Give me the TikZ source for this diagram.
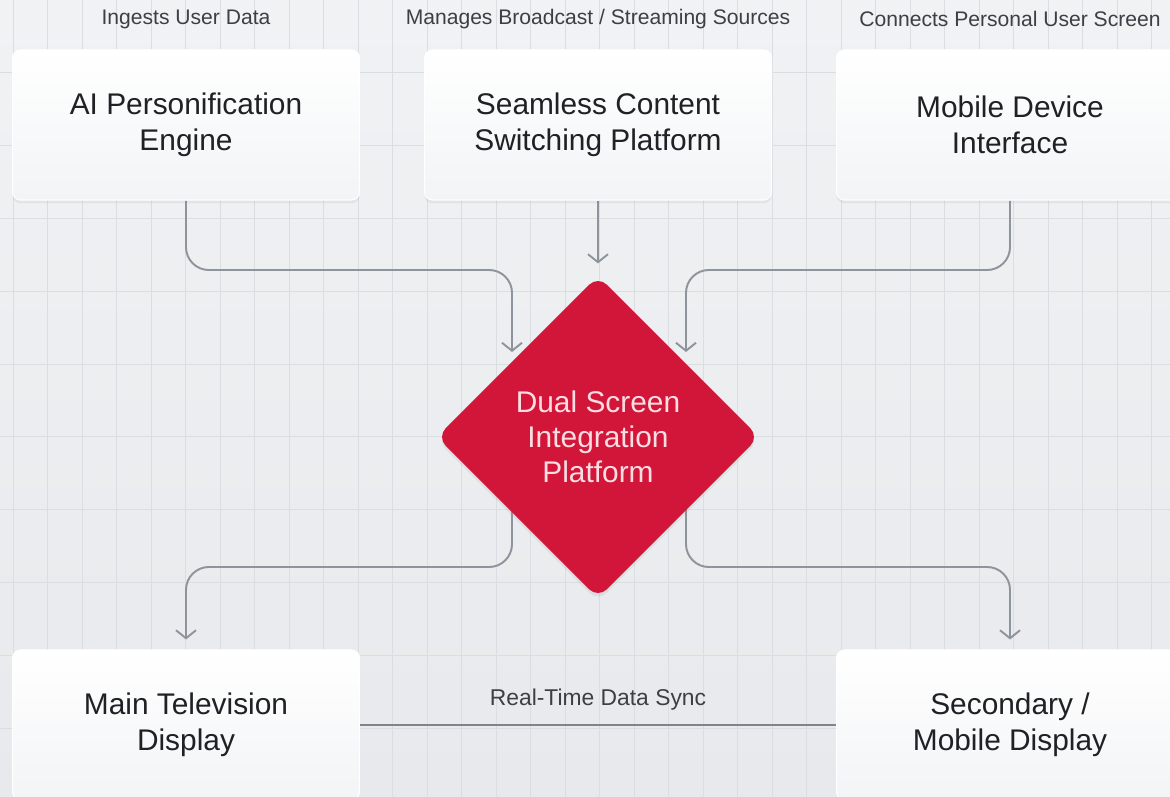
\documentclass[tikz,border=0pt]{standalone}
\usepackage{fontspec}
\setmainfont{Liberation Sans}
\usetikzlibrary{shapes.geometric, arrows.meta, positioning, shadows, calc, backgrounds}

\definecolor{canvastop}{HTML}{F1F2F4}
\definecolor{canvaslow}{HTML}{E7E9EC}
\definecolor{gridgray}{HTML}{DADDE1}
\definecolor{cardlow}{HTML}{F3F4F6}
\definecolor{inktext}{HTML}{1F2124}
\definecolor{captext}{HTML}{3C3F44}
\definecolor{hubred}{HTML}{D2163A}
\definecolor{hubtext}{HTML}{FBDDE2}
\definecolor{flowgray}{HTML}{8E949C}
\definecolor{syncgray}{HTML}{7E848D}

\begin{document}
\begin{tikzpicture}[
  x=0.02cm, y=-0.02cm,
  card/.style={rectangle, rounded corners=4.5pt, draw=white, line width=0.6pt,
               top color=white, bottom color=cardlow, text=inktext,
               minimum width=6.94cm, minimum height=3cm, align=center,
               font=\fontsize{17}{20.5}\selectfont,
               drop shadow={opacity=0.10, shadow xshift=0pt, shadow yshift=-2pt}},
  caption/.style={text=captext, font=\fontsize{12}{14}\selectfont},
  hub/.style={diamond, aspect=1, minimum width=6.45cm, minimum height=6.45cm,
              inner sep=0pt, rounded corners=7pt, fill=hubred, text=hubtext,
              align=center, font=\fontsize{17}{20}\selectfont,
              drop shadow={opacity=0.12, shadow xshift=0pt, shadow yshift=-2pt}},
  flow/.style={-{Straight Barb[length=1.6mm, width=4mm]}, draw=flowgray,
               line width=1.1pt, rounded corners=13pt},
  sync/.style={draw=syncgray, line width=1.2pt},
  gridline/.style={draw=gridgray, line width=0.45pt}
]
\useasboundingbox (0,0) rectangle (1170,797);
\clip (0,0) rectangle (1170,797);

% --- canvas and grid ---
\begin{scope}[on background layer]
  \shade[top color=canvastop, bottom color=canvaslow] (0,0) rectangle (1170,797);
  \foreach \gx in {0,...,33}
    \draw[gridline] (13+34.5*\gx,0) -- (13+34.5*\gx,797);
  \foreach \gy in {1,...,10}
    \draw[gridline] (0,72.8*\gy) -- (1170,72.8*\gy);
\end{scope}

% --- Sources ---
\node[card] (ai)   at (186,125)  {AI Personification\\Engine};
\node[card] (seam) at (598,125)  {Seamless Content\\Switching Platform};
\node[card] (mob)  at (1010,125) {Mobile Device\\Interface};

\node[caption] (capai)   at (186,19)  {Ingests User Data};
\node[caption] (capseam) at (598,19)  {Manages Broadcast / Streaming Sources};
\node[caption] (capmob)  at (1010,19) {Connects Personal User Screen};

% --- Hub ---
\node[hub] (dsip) at (598,437) {Dual Screen\\Integration\\Platform};

% --- Displays ---
\node[card] (tv)  at (186,725)  {Main Television\\Display};
\node[card] (sec) at (1010,725) {Secondary /\\Mobile Display};

% --- connector ends ---
\coordinate (inL)  at (512,352);
\coordinate (inR)  at (686,352);
\coordinate (outL) at (512,480);
\coordinate (outR) at (686,480);

% --- arrows: sources to hub, hub to displays ---
\begin{scope}[on background layer]
  \draw[flow] (ai.south) |- (512,270) -- (inL);
  \draw[flow, shorten >=2.4mm] (seam.south) -- (dsip.north);
  \draw[flow] (mob.south) |- (686,270) -- (inR);
  \draw[flow, shorten >=2mm] (outL) |- (186,567) -- (tv.north);
  \draw[flow, shorten >=2mm] (outR) |- (1010,567) -- (sec.north);
\end{scope}

% --- sync link ---
\draw[sync] (tv.east) -- node[above=1.6mm, caption, font=\fontsize{13}{15}\selectfont] (synclbl) {Real-Time Data Sync} (sec.west);
\end{tikzpicture}
\end{document}
